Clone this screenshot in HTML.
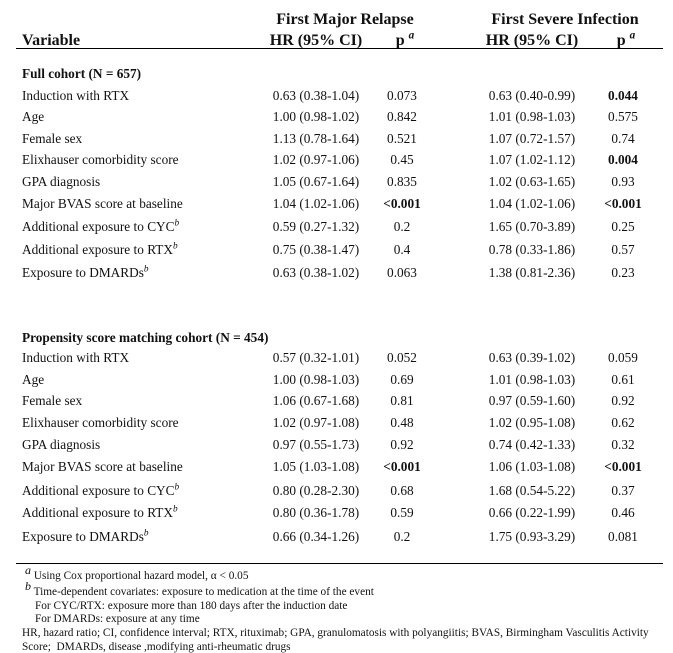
<!DOCTYPE html>
<html><head><meta charset="utf-8"><style>
html,body{margin:0;padding:0;background:#fff;}
body{width:673px;height:652px;position:relative;overflow:hidden;font-family:"Liberation Serif",serif;color:#111;}
.t{position:absolute;white-space:nowrap;font-size:13.3px;line-height:14px;}
.c{transform:translateX(-50%);}
.b{font-weight:bold;}
.h{font-size:16px;font-weight:bold;line-height:16px;}
.f{font-size:11.3px;line-height:12px;}
sup{font-size:70%;font-style:italic;vertical-align:super;line-height:0;}
.line{position:absolute;height:1.3px;background:#000;}
</style></head><body>
<div class="t h c" style="left:345px;top:12px">First Major Relapse</div>
<div class="t h c" style="left:565px;top:12px">First Severe Infection</div>
<div class="t h" style="left:22px;top:33px">Variable</div>
<div class="t h c" style="left:316px;top:33px">HR (95% CI)</div>
<div class="t h c" style="left:405px;top:33px">p <sup>a</sup></div>
<div class="t h c" style="left:532px;top:33px">HR (95% CI)</div>
<div class="t h c" style="left:626px;top:33px">p <sup>a</sup></div>
<div class="line" style="left:16px;top:48px;width:647px"></div>

<div class="t b" style="left:22px;top:67px">Full cohort (N = 657)</div>
<div class="t" style="left:22px;top:89px">Induction with RTX</div><div class="t c" style="left:316px;top:89px">0.63 (0.38-1.04)</div><div class="t c" style="left:402px;top:89px">0.073</div><div class="t c" style="left:532px;top:89px">0.63 (0.40-0.99)</div><div class="t c b" style="left:623px;top:89px">0.044</div>
<div class="t" style="left:22px;top:110px">Age</div><div class="t c" style="left:316px;top:110px">1.00 (0.98-1.02)</div><div class="t c" style="left:402px;top:110px">0.842</div><div class="t c" style="left:532px;top:110px">1.01 (0.98-1.03)</div><div class="t c" style="left:623px;top:110px">0.575</div>
<div class="t" style="left:22px;top:132px">Female sex</div><div class="t c" style="left:316px;top:132px">1.13 (0.78-1.64)</div><div class="t c" style="left:402px;top:132px">0.521</div><div class="t c" style="left:532px;top:132px">1.07 (0.72-1.57)</div><div class="t c" style="left:623px;top:132px">0.74</div>
<div class="t" style="left:22px;top:153px">Elixhauser comorbidity score</div><div class="t c" style="left:316px;top:153px">1.02 (0.97-1.06)</div><div class="t c" style="left:402px;top:153px">0.45</div><div class="t c" style="left:532px;top:153px">1.07 (1.02-1.12)</div><div class="t c b" style="left:623px;top:153px">0.004</div>
<div class="t" style="left:22px;top:175px">GPA diagnosis</div><div class="t c" style="left:316px;top:175px">1.05 (0.67-1.64)</div><div class="t c" style="left:402px;top:175px">0.835</div><div class="t c" style="left:532px;top:175px">1.02 (0.63-1.65)</div><div class="t c" style="left:623px;top:175px">0.93</div>
<div class="t" style="left:22px;top:197px">Major BVAS score at baseline</div><div class="t c" style="left:316px;top:197px">1.04 (1.02-1.06)</div><div class="t c b" style="left:402px;top:197px">&lt;0.001</div><div class="t c" style="left:532px;top:197px">1.04 (1.02-1.06)</div><div class="t c b" style="left:623px;top:197px">&lt;0.001</div>
<div class="t" style="left:22px;top:220px">Additional exposure to CYC<sup>b</sup></div><div class="t c" style="left:316px;top:220px">0.59 (0.27-1.32)</div><div class="t c" style="left:402px;top:220px">0.2</div><div class="t c" style="left:532px;top:220px">1.65 (0.70-3.89)</div><div class="t c" style="left:623px;top:220px">0.25</div>
<div class="t" style="left:22px;top:243px">Additional exposure to RTX<sup>b</sup></div><div class="t c" style="left:316px;top:243px">0.75 (0.38-1.47)</div><div class="t c" style="left:402px;top:243px">0.4</div><div class="t c" style="left:532px;top:243px">0.78 (0.33-1.86)</div><div class="t c" style="left:623px;top:243px">0.57</div>
<div class="t" style="left:22px;top:266px">Exposure to DMARDs<sup>b</sup></div><div class="t c" style="left:316px;top:266px">0.63 (0.38-1.02)</div><div class="t c" style="left:402px;top:266px">0.063</div><div class="t c" style="left:532px;top:266px">1.38 (0.81-2.36)</div><div class="t c" style="left:623px;top:266px">0.23</div>

<div class="t b" style="left:22px;top:331px">Propensity score matching cohort (N = 454)</div>
<div class="t" style="left:22px;top:351px">Induction with RTX</div><div class="t c" style="left:316px;top:351px">0.57 (0.32-1.01)</div><div class="t c" style="left:402px;top:351px">0.052</div><div class="t c" style="left:532px;top:351px">0.63 (0.39-1.02)</div><div class="t c" style="left:623px;top:351px">0.059</div>
<div class="t" style="left:22px;top:373px">Age</div><div class="t c" style="left:316px;top:373px">1.00 (0.98-1.03)</div><div class="t c" style="left:402px;top:373px">0.69</div><div class="t c" style="left:532px;top:373px">1.01 (0.98-1.03)</div><div class="t c" style="left:623px;top:373px">0.61</div>
<div class="t" style="left:22px;top:394px">Female sex</div><div class="t c" style="left:316px;top:394px">1.06 (0.67-1.68)</div><div class="t c" style="left:402px;top:394px">0.81</div><div class="t c" style="left:532px;top:394px">0.97 (0.59-1.60)</div><div class="t c" style="left:623px;top:394px">0.92</div>
<div class="t" style="left:22px;top:416px">Elixhauser comorbidity score</div><div class="t c" style="left:316px;top:416px">1.02 (0.97-1.08)</div><div class="t c" style="left:402px;top:416px">0.48</div><div class="t c" style="left:532px;top:416px">1.02 (0.95-1.08)</div><div class="t c" style="left:623px;top:416px">0.62</div>
<div class="t" style="left:22px;top:438px">GPA diagnosis</div><div class="t c" style="left:316px;top:438px">0.97 (0.55-1.73)</div><div class="t c" style="left:402px;top:438px">0.92</div><div class="t c" style="left:532px;top:438px">0.74 (0.42-1.33)</div><div class="t c" style="left:623px;top:438px">0.32</div>
<div class="t" style="left:22px;top:460px">Major BVAS score at baseline</div><div class="t c" style="left:316px;top:460px">1.05 (1.03-1.08)</div><div class="t c b" style="left:402px;top:460px">&lt;0.001</div><div class="t c" style="left:532px;top:460px">1.06 (1.03-1.08)</div><div class="t c b" style="left:623px;top:460px">&lt;0.001</div>
<div class="t" style="left:22px;top:484px">Additional exposure to CYC<sup>b</sup></div><div class="t c" style="left:316px;top:484px">0.80 (0.28-2.30)</div><div class="t c" style="left:402px;top:484px">0.68</div><div class="t c" style="left:532px;top:484px">1.68 (0.54-5.22)</div><div class="t c" style="left:623px;top:484px">0.37</div>
<div class="t" style="left:22px;top:506px">Additional exposure to RTX<sup>b</sup></div><div class="t c" style="left:316px;top:506px">0.80 (0.36-1.78)</div><div class="t c" style="left:402px;top:506px">0.59</div><div class="t c" style="left:532px;top:506px">0.66 (0.22-1.99)</div><div class="t c" style="left:623px;top:506px">0.46</div>
<div class="t" style="left:22px;top:530px">Exposure to DMARDs<sup>b</sup></div><div class="t c" style="left:316px;top:530px">0.66 (0.34-1.26)</div><div class="t c" style="left:402px;top:530px">0.2</div><div class="t c" style="left:532px;top:530px">1.75 (0.93-3.29)</div><div class="t c" style="left:623px;top:530px">0.081</div>

<div class="line" style="left:16px;top:563px;width:647px"></div>
<div class="t f" style="left:25px;top:570px"><sup style="font-size:12px">a</sup> Using Cox proportional hazard model, α &lt; 0.05</div>
<div class="t f" style="left:25px;top:586px"><sup style="font-size:12px">b</sup> Time-dependent covariates: exposure to medication at the time of the event</div>
<div class="t f" style="left:35px;top:600px">For CYC/RTX: exposure more than 180 days after the induction date</div>
<div class="t f" style="left:35px;top:613px">For DMARDs: exposure at any time</div>
<div class="t f" style="left:22px;top:627px">HR, hazard ratio; CI, confidence interval; RTX, rituximab; GPA, granulomatosis with polyangiitis; BVAS, Birmingham Vasculitis Activity</div>
<div class="t f" style="left:22px;top:641px">Score;&nbsp; DMARDs, disease ,modifying anti-rheumatic drugs</div>
</body></html>
